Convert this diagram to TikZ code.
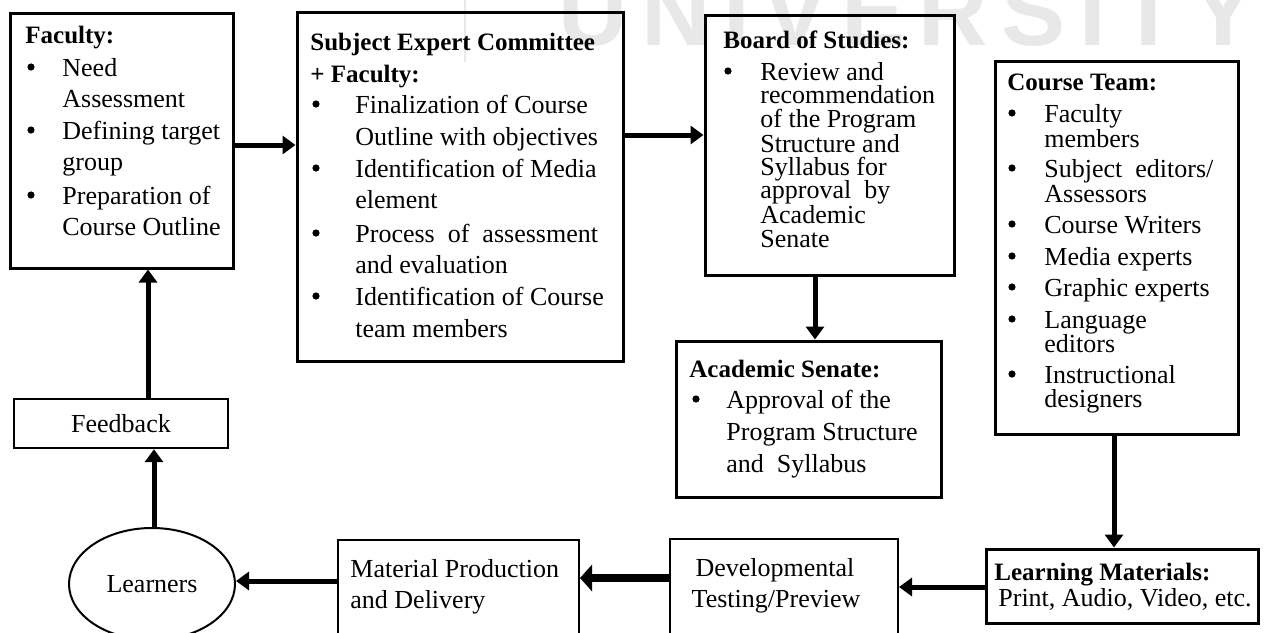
\documentclass[tikz,border=0pt]{standalone}
\usepackage{fontspec}
\setmainfont{Liberation Serif}
\newfontfamily\wmfont[LetterSpace=14]{Liberation Sans}
\usetikzlibrary{arrows.meta,shapes.geometric,fit}
\begin{document}
\begin{tikzpicture}[x=0.5pt,y=-0.5pt,
  box/.style={draw, line width=1.5pt, rectangle, inner sep=0pt},
  thinbox/.style={box, line width=1pt},
  txt/.style={inner sep=0pt, anchor=base west, font=\fontsize{13}{15}\selectfont},
  ctxt/.style={txt, anchor=base},
  hd/.style={inner sep=0pt, anchor=base west, font=\fontsize{12.5}{15}\selectfont\bfseries},
  bul/.style={circle, fill, inner sep=0pt, minimum size=3.6pt, yshift=4.5pt},
  arr/.style={line width=2.5pt, -{Triangle[width=9pt,length=6.5pt]}},
  wm/.style={inner sep=0pt, anchor=base west, text=black!9, font=\wmfont\bfseries\fontsize{48}{48}\selectfont},
]
\useasboundingbox (0,0) rectangle (1266,633);
\clip (0,0) rectangle (1266,633);
\fill[white] (0,0) rectangle (1266,633);

% faint watermark
\node[wm] (wmark) at (558,45) {UNIVERSITY};
\draw[black!9, line width=1pt] (465,0) -- (465,62);

% boxes
\node[box, fit={(10,13) (233,268)}] (fac) {};
\node[box, fit={(297,12) (623,361)}] (sub) {};
\node[box, fit={(705,15) (954,275)}] (bos) {};
\node[box, fit={(995,61) (1238,434)}] (ct) {};
\node[box, fit={(676,341) (941,497)}] (as) {};
\node[box, fit={(986,549) (1258,623)}] (lm) {};
\node[thinbox, fit={(670,539) (898,680)}] (dt) {};
\node[thinbox, fit={(338,540) (579,680)}] (mp) {};
\node[thinbox, line width=1.2pt, minimum width=107pt, minimum height=24.5pt,
      font=\fontsize{13}{15}\selectfont] (fb) at (121,423.5) {Feedback};
\node[draw, ellipse, line width=1pt, inner sep=0pt, minimum width=83pt, minimum height=56pt,
      font=\fontsize{13}{15}\selectfont] (learners) at (152,584) {Learners};

% Faculty
\node[hd] (f0) at (25,43) {Faculty:};
\node[bul] (fb1) at (31,76) {};
\node[bul] (fb2) at (31,139) {};
\node[bul] (fb3) at (31,204) {};
\node[txt] (f1) at (62,76) {Need};
\node[txt] (f2) at (62,107) {Assessment};
\node[txt] (f3) at (62,139) {Defining target};
\node[txt] (f4) at (62,170) {group};
\node[txt] (f5) at (62,204) {Preparation of};
\node[txt] (f6) at (62,235) {Course Outline};

% Subject Expert Committee
\node[hd] (s0) at (310,50) {Subject Expert Committee};
\node[hd] (s00) at (310,82) {+ Faculty:};
\node[bul] (sb1) at (316,113) {};
\node[bul] (sb2) at (316,177) {};
\node[bul] (sb3) at (316,242) {};
\node[bul] (sb4) at (316,305) {};
\node[txt] (s1) at (355,113) {Finalization of Course};
\node[txt] (s2) at (355,145) {Outline with objectives};
\node[txt] (s3) at (355,177) {Identification of Media};
\node[txt] (s4) at (355,208) {element};
\node[txt] (s5) at (355,242) {Process\ \ of\ \ assessment};
\node[txt] (s6) at (355,273) {and evaluation};
\node[txt] (s7) at (355,305) {Identification of Course};
\node[txt] (s8) at (355,337) {team members};

% Board of Studies
\node[hd] (b0) at (723,48) {Board of Studies:};
\node[bul] (bb1) at (728,80) {};
\node[txt] (b1) at (760,80) {Review and};
\node[txt] (b2) at (760,103) {recommendation};
\node[txt] (b3) at (760,127) {of the Program};
\node[txt] (b4) at (760,152) {Structure and};
\node[txt] (b5) at (760,175) {Syllabus for};
\node[txt] (b6) at (760,198) {approval\ \ by};
\node[txt] (b7) at (760,223) {Academic};
\node[txt] (b8) at (760,247) {Senate};

% Course Team
\node[hd] (c0) at (1007,90) {Course Team:};
\node[bul] (cb1) at (1012,122) {};
\node[bul] (cb2) at (1012,177) {};
\node[bul] (cb3) at (1012,233) {};
\node[bul] (cb4) at (1012,265) {};
\node[bul] (cb5) at (1012,296) {};
\node[bul] (cb6) at (1012,328) {};
\node[bul] (cb7) at (1012,383) {};
\node[txt] (c1) at (1044,122) {Faculty};
\node[txt] (c2) at (1044,147) {members};
\node[txt] (c3) at (1044,177) {Subject\ \ editors/};
\node[txt] (c4) at (1044,202) {Assessors};
\node[txt] (c5) at (1044,233) {Course Writers};
\node[txt] (c6) at (1044,265) {Media experts};
\node[txt] (c7) at (1044,296) {Graphic experts};
\node[txt] (c8) at (1044,328) {Language};
\node[txt] (c9) at (1044,352) {editors};
\node[txt] (c10) at (1044,383) {Instructional};
\node[txt] (c11) at (1044,407) {designers};

% Academic Senate
\node[hd] (a0) at (689,377) {Academic Senate:};
\node[bul] (ab1) at (696,408) {};
\node[txt] (a1) at (726,408) {Approval of the};
\node[txt] (a2) at (726,440) {Program Structure};
\node[txt] (a3) at (726,472) {and\ \ Syllabus};

% Learning Materials
\node[hd] (l0) at (994,580) {Learning Materials:};
\node[txt] (l1) at (998,606) {Print, Audio, Video, etc.};

% Developmental Testing
\node[ctxt] (d1) at (775,576) {Developmental};
\node[ctxt] (d2) at (776,607) {Testing/Preview};

% Material Production
\node[txt] (m1) at (350,577) {Material Production};
\node[txt] (m2) at (350,608) {and Delivery};

% connectors
\coordinate (r1) at (0,145);
\coordinate (r2) at (0,135);
\coordinate (c3x) at (815,0);
\coordinate (c4x) at (1114,0);
\coordinate (r5) at (0,587);
\coordinate (r6) at (0,578);
\coordinate (r7) at (0,581);
\coordinate (c8x) at (154,0);
\coordinate (c9x) at (148,0);
\draw[arr] (fac.east |- r1) -- (sub.west |- r1);
\draw[arr] (sub.east |- r2) -- (bos.west |- r2);
\draw[arr] (bos.south -| c3x) -- (as.north -| c3x);
\draw[arr] (ct.south -| c4x) -- (lm.north -| c4x);
\draw[arr] (lm.west |- r5) -- (dt.east |- r5);
\draw[arr, line width=4pt, -{Triangle[width=13pt,length=6pt]}] (dt.west |- r6) -- (mp.east |- r6);
\draw[arr] (mp.west |- r7) -- (learners.east |- r7);
\draw[arr] (learners.north -| c8x) -- (fb.south -| c8x);
\draw[arr] (fb.north -| c9x) -- (fac.south -| c9x);
\end{tikzpicture}
\end{document}
